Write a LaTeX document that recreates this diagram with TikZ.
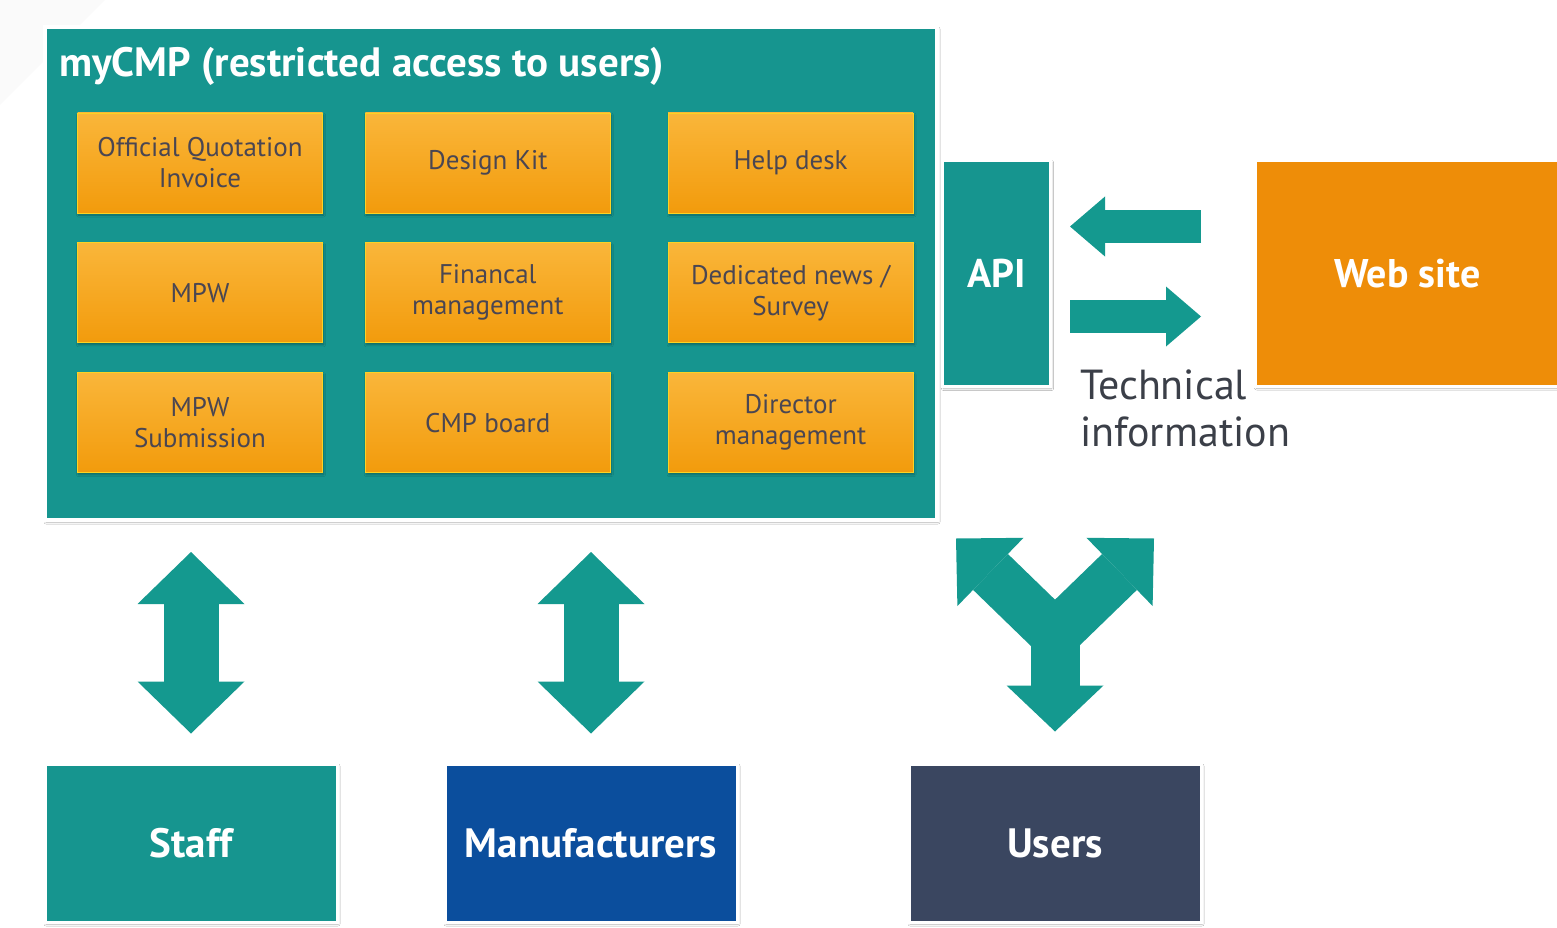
\documentclass[tikz,border=0pt]{standalone}
\usepackage{fontspec}
\setmainfont{PT Sans}
\usepackage{tikz}
\usetikzlibrary{positioning, arrows.meta, calc, shadows.blur}
\definecolor{cmpteal}{HTML}{16958F}
\definecolor{flowteal}{HTML}{14998F}
\definecolor{btnlight}{HTML}{FAB63A}
\definecolor{btndark}{HTML}{F29B0C}
\definecolor{btntext}{HTML}{4A4652}
\definecolor{siteorange}{HTML}{EE8D08}
\definecolor{mfgblue}{HTML}{0B4E9D}
\definecolor{userslate}{HTML}{3A4660}
\definecolor{infogray}{HTML}{3B3F48}
\tikzset{
    softshadow/.style = {blur shadow={shadow xshift=1pt, shadow yshift=-2pt,
                         shadow blur steps=6, shadow opacity=30}},
    mainbox/.style    = {draw=white, line width=4pt, fill=cmpteal, inner sep=0pt,
                         minimum width=892pt, minimum height=493pt, softshadow},
    titletext/.style  = {text=white, inner sep=0pt,
                         font=\fontsize{41}{46}\selectfont\bfseries},
    btn/.style        = {draw=btnlight!60!yellow, line width=0.8pt,
                         top color=btnlight, bottom color=btndark,
                         minimum width=245pt, minimum height=100pt, inner sep=0pt,
                         align=center, text=btntext, softshadow,
                         font=\fontsize{27}{31}\selectfont},
    sidebox/.style    = {draw=white, line width=3pt, inner sep=0pt, text=white,
                         font=\fontsize{40}{44}\selectfont\bfseries, softshadow},
    actor/.style      = {draw=white, line width=3pt, inner sep=0pt, text=white,
                         minimum width=292pt, minimum height=158pt,
                         font=\fontsize{41}{46}\selectfont\bfseries, softshadow},
    infotext/.style   = {text=infogray, align=left, inner sep=0pt,
                         font=\fontsize{42}{47}\selectfont},
    vflow/.style      = {draw=flowteal, line width=55pt,
                         {Triangle[length=52pt, width=107pt, line width=0pt]}-{Triangle[length=52pt, width=107pt, line width=0pt]}},
    hflow/.style      = {draw=flowteal, line width=33pt,
                         -{Triangle[length=35pt, width=60pt, line width=0pt]}},
    yarms/.style      = {draw=flowteal, line width=50pt, line join=miter,
                         {Triangle[length=48pt, width=95pt, line width=0pt]}-{Triangle[length=48pt, width=95pt, line width=0pt]}},
    ystem/.style      = {draw=flowteal, line width=49pt,
                         -{Triangle[length=46pt, width=97pt, line width=0pt]}},
}

\begin{document}
\begin{tikzpicture}[x=1pt, y=-1pt]

\useasboundingbox (0,0) rectangle (1557,928);
\fill[white] (0,0) rectangle (1557,928);
\fill[gray!4] (0,0) -- (105,0) -- (0,105) -- cycle;

\node[mainbox] (main) at (491,273.5) {};
\node[titletext, anchor=north west] (title)
    at ([xshift=16pt, yshift=-22pt]main.north west)
    {myCMP (restricted access to users)};

\node[btn] (b11) at (200,163) {Official Quotation\\Invoice};
\node[btn, right=42pt of b11] (b12) {Design Kit};
\node[btn, right=57pt of b12] (b13) {Help desk};
\node[btn, below=29pt of b11] (b21) {MPW};
\node[btn, below=29pt of b12] (b22) {Financal\\management};
\node[btn, below=29pt of b13] (b23) {Dedicated news /\\Survey};
\node[btn, below=29pt of b21] (b31) {MPW\\Submission};
\node[btn, below=29pt of b22] (b32) {CMP board};
\node[btn, below=29pt of b23] (b33) {Director\\management};

\node[sidebox, fill=cmpteal, minimum width=108pt, minimum height=226pt,
      right=2pt of main] (api) {API};
\node[sidebox, fill=siteorange, minimum width=304pt, minimum height=225pt,
      right=202pt of api] (site) {Web site};
\node[infotext, anchor=north west] (info) at (1080,370)
    {Technical\\information};

\node[actor, fill=cmpteal] (staff) at (191,843) {Staff};
\node[actor, fill=mfgblue, right=105pt of staff] (mfg) {Manufacturers};
\node[actor, fill=userslate, right=169pt of mfg] (users) {Users};

\draw[hflow, shorten <=53pt, shorten >=18pt]
    ([yshift=47pt]site.west) -- ([yshift=47pt]site.west -| api.east);
\draw[hflow, shorten <=18pt, shorten >=53pt]
    ([yshift=-43pt]api.east) -- ([yshift=-43pt]api.east -| site.west);

\draw[vflow, shorten <=29pt, shorten >=30pt] (staff.north) -- (staff.north |- main.south);
\draw[vflow, shorten <=29pt, shorten >=30pt] (mfg.north) -- (mfg.north |- main.south);

\coordinate (fork) at ($(users.north)+(0,-128)$);
\coordinate (forkL) at ($(fork)+(-99,-96)$);
\coordinate (forkR) at ($(fork)+(99,-96)$);
\draw[yarms] (forkL) -- (fork) -- (forkR);
\draw[ystem, shorten >=31pt] (fork) -- (users.north);

\end{tikzpicture}
\end{document}
